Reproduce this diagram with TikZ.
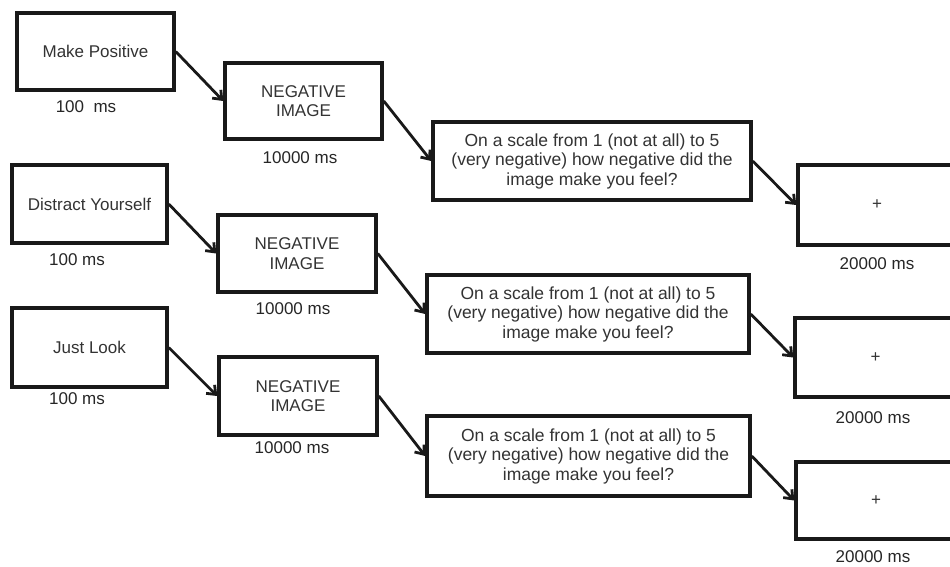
\documentclass[tikz,border=0pt]{standalone}
\usepackage{fontspec}
\setmainfont{Liberation Sans}
\usetikzlibrary{arrows.meta,shadows}
\begin{document}
\begin{tikzpicture}[x=1pt,y=-1pt,
  box/.style={draw=black!90, line width=3.5pt, fill=white, inner sep=0pt,
    align=center, text=black!80, font=\fontsize{17}{19.5}\selectfont,
    drop shadow={shadow xshift=1.5pt, shadow yshift=-2pt, opacity=0.18, fill=black}},
  qbox/.style={box, font=\fontsize{17.5}{19.5}\selectfont},
  lbl/.style={inner sep=0pt, text=black!85, font=\fontsize{17}{19.5}\selectfont},
  link/.style={draw=black!90, line width=2.8pt, -{Straight Barb[length=7.5pt,width=12pt]}}]
\useasboundingbox (0,0) rectangle (950,567);
\clip (0,0) rectangle (950,567);
\fill[white] (0,0) rectangle (950,567);
% row 1
\node[box, minimum width=157pt, minimum height=77pt] (a1) at (95.5,51.5) {Make Positive};
\node[box, minimum width=157pt, minimum height=76pt] (b1) at (303.5,101) {NEGATIVE\\IMAGE};
\node[qbox, minimum width=318pt, minimum height=78pt] (c1) at (592,161) {On a scale from 1 (not at all) to 5\\(very negative) how negative did the\\image make you feel?};
\node[box, minimum width=158pt, minimum height=80pt] (d1) at (877,205) {+};
% row 2
\node[box, minimum width=155pt, minimum height=78pt] (a2) at (89.5,204) {Distract Yourself};
\node[box, minimum width=158pt, minimum height=77pt] (b2) at (297,253.5) {NEGATIVE\\IMAGE};
\node[qbox, minimum width=322pt, minimum height=78pt] (c2) at (588,314) {On a scale from 1 (not at all) to 5\\(very negative) how negative did the\\image make you feel?};
\node[box, minimum width=161pt, minimum height=79pt] (d2) at (875.5,357.5) {+};
% row 3
\node[box, minimum width=155pt, minimum height=79pt] (a3) at (89.5,347.5) {Just Look};
\node[box, minimum width=158pt, minimum height=78pt] (b3) at (298,396) {NEGATIVE\\IMAGE};
\node[qbox, minimum width=323pt, minimum height=80pt] (c3) at (588.5,456) {On a scale from 1 (not at all) to 5\\(very negative) how negative did the\\image make you feel?};
\node[box, minimum width=160pt, minimum height=77pt] (d3) at (876,500.5) {+};
% labels
\node[lbl] (ta1) at (86,107) {100\ \ ms};
\node[lbl] (ta2) at (77,260) {100 ms};
\node[lbl] (ta3) at (77,399) {100 ms};
\node[lbl] (tb1) at (300,158) {10000 ms};
\node[lbl] (tb2) at (293,309) {10000 ms};
\node[lbl] (tb3) at (292,448) {10000 ms};
\node[lbl] (td1) at (877,264) {20000 ms};
\node[lbl] (td2) at (873,418) {20000 ms};
\node[lbl] (td3) at (873,557) {20000 ms};
% connectors
\foreach \r in {1,2,3}{
  \draw[link] (a\r.east) -- (b\r.west);
  \draw[link] (b\r.east) -- (c\r.west);
  \draw[link] (c\r.east) -- (d\r.west);
}
\end{tikzpicture}
\end{document}
